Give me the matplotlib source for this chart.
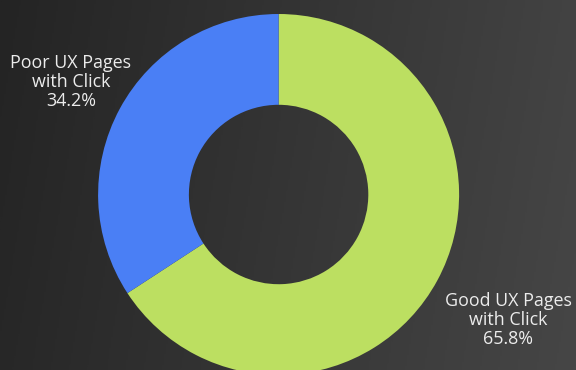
import numpy as np
import matplotlib
matplotlib.use("Agg")
import matplotlib.pyplot as plt
from matplotlib.colors import LinearSegmentedColormap

labels = ["Good UX Pages\nwith Click", "Poor UX Pages\nwith Click"]
values = [65.8, 34.2]
colors = ["#BCDF61", "#4A7FF5"]

fig = plt.figure(figsize=(5.76, 3.70), dpi=100)
ax = fig.add_axes([0, 0, 1, 1])
ax.set_axis_off()

# background gradient
W, H = 576, 370
xx = np.linspace(0, 1, 300)
yy = np.linspace(0, 1, 200)
X, Y = np.meshgrid(xx, yy)
grad = 0.9 * X + 0.1 * Y
cmap = LinearSegmentedColormap.from_list("bg", ["#242424", "#464646"])
ax.imshow(grad, cmap=cmap, extent=[0, W, 0, H], origin="upper", aspect="auto", zorder=0)

cx, cy, R = 278.6, H - 194.5, 180.5
wedges, _ = ax.pie(values, colors=colors, startangle=90, counterclock=False,
                   center=(cx, cy), radius=R,
                   wedgeprops=dict(width=R * 0.503, edgecolor="none"))
for w in wedges:
    w.set_zorder(2)

ax.set_xlim(0, W)
ax.set_ylim(0, H)
ax.set_aspect("auto")

font = ["Open Sans", "DejaVu Sans"]
ax.text(71, H - 82, f"{labels[1]}\n{values[1]:.1f}%", ha="center", va="center",
        color="#ececec", fontsize=12.9, family=font, linespacing=1.08, zorder=3)
ax.text(508, H - 320, f"{labels[0]}\n{values[0]:.1f}%", ha="center", va="center",
        color="#ececec", fontsize=12.9, family=font, linespacing=1.08, zorder=3)

fig.savefig("out.png", dpi=100)
